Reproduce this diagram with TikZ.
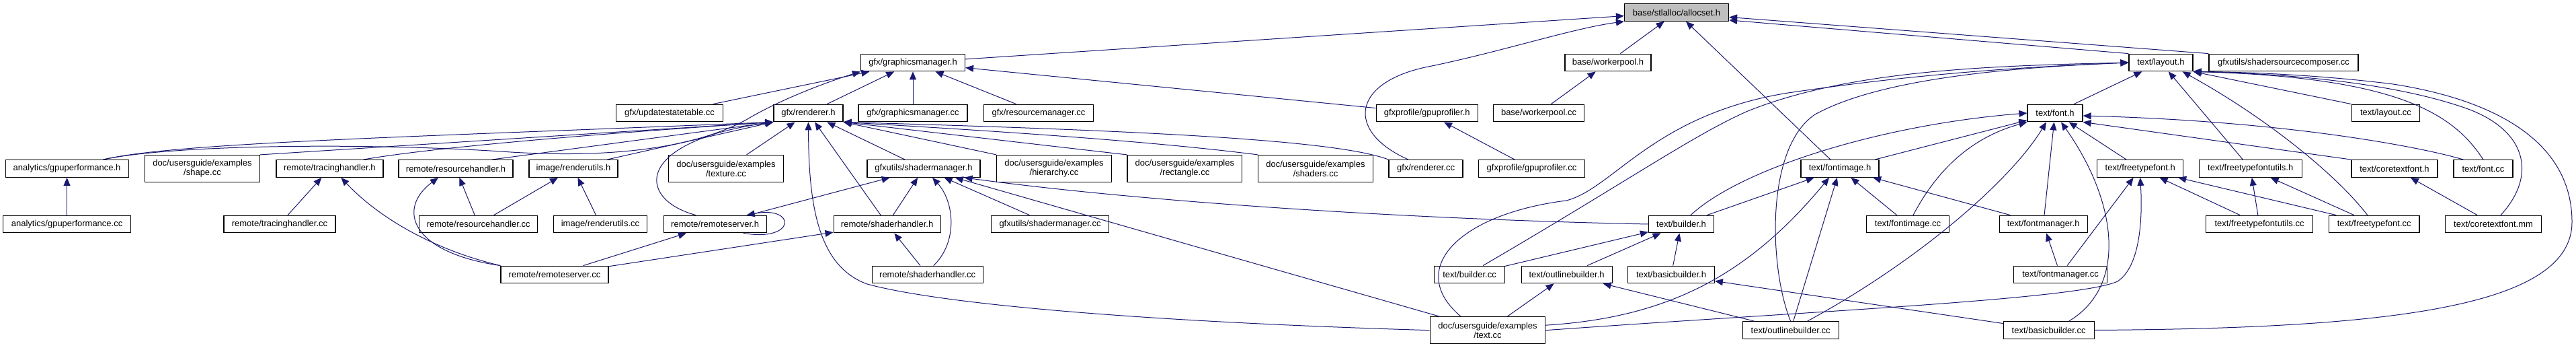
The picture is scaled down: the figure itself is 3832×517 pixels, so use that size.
\documentclass[tikz,border=0pt]{standalone}
\usepackage{fontspec}
\setmainfont{Liberation Sans}
\usetikzlibrary{arrows.meta,calc}
\definecolor{Ec}{HTML}{191970}
\definecolor{Cc}{HTML}{BFBFBF}
\tikzset{
  file/.style={draw=black, line width=0.6pt, fill=white, inner sep=0pt, minimum height=12.8pt,
    align=center, font=\fontsize{6.5pt}{7pt}\selectfont},
  file2/.style={file, minimum height=20pt},
  curfile/.style={file, fill=Cc},
  dep/.style={draw=Ec, line width=0.5pt, -{Triangle[length=6pt, width=5pt]}},
}
\begin{document}
\begin{tikzpicture}[x=0.5pt, y=-0.5pt]
  \useasboundingbox (0,0) rectangle (3832,517);
  \node[curfile, minimum width=77.5pt] (allocset) at (2494,18.5) {base/stlalloc/allocset.h};
  \node[file, minimum width=77.5pt] (gmh) at (1358,93) {gfx/graphicsmanager.h};
  \node[file, minimum width=64pt] (wph) at (2392,93) {base/workerpool.h};
  \node[file, minimum width=47.5pt] (layh) at (3214.5,93) {text/layout.h};
  \node[file, minimum width=111pt] (sscc) at (3397,93) {gfxutils/shadersourcecomposer.cc};
  \node[file, minimum width=79.3pt] (ustcc) at (996,168) {gfx/updatestatetable.cc};
  \node[file, minimum width=51.5pt] (rendh) at (1202.5,168) {gfx/renderer.h};
  \node[file, minimum width=81pt] (gmcc) at (1358,168) {gfx/graphicsmanager.cc};
  \node[file, minimum width=81.3pt] (rmcc) at (1545,168) {gfx/resourcemanager.cc};
  \node[file, minimum width=75.5pt] (gpph) at (2122.7,168) {gfxprofile/gpuprofiler.h};
  \node[file, minimum width=67.5pt] (wpcc) at (2289,168) {base/workerpool.cc};
  \node[file, minimum width=41pt] (fonth) at (3057,168) {text/font.h};
  \node[file, minimum width=50.8pt] (laycc) at (3549,168) {text/layout.cc};
  \node[file, minimum width=91.5pt] (gpfh) at (99.6,250.5) {analytics/gpuperformance.h};
  \node[file2, minimum width=85.5pt] (shapecc) at (301,250.5) {doc/usersguide/examples\\/shape.cc};
  \node[file, minimum width=79.5pt] (trh) at (490.4,250.5) {remote/tracinghandler.h};
  \node[file, minimum width=85pt] (rsh) at (678,250.5) {remote/resourcehandler.h};
  \node[file, minimum width=66pt] (ruh) at (853,250.5) {image/renderutils.h};
  \node[file2, minimum width=85.7pt] (texcc) at (1080,250.5) {doc/usersguide/examples\\/texture.cc};
  \node[file, minimum width=84pt] (smh) at (1374,250.5) {gfxutils/shadermanager.h};
  \node[file2, minimum width=85.3pt] (hiercc) at (1568,250.5) {doc/usersguide/examples\\/hierarchy.cc};
  \node[file2, minimum width=85.4pt] (rectcc) at (1762.4,250.5) {doc/usersguide/examples\\/rectangle.cc};
  \node[file2, minimum width=85.5pt] (shadcc) at (1957,250.5) {doc/usersguide/examples\\/shaders.cc};
  \node[file, minimum width=55pt] (rendcc) at (2121,250.5) {gfx/renderer.cc};
  \node[file, minimum width=79pt] (gppcc) at (2278.5,250.5) {gfxprofile/gpuprofiler.cc};
  \node[file, minimum width=58pt] (fimh) at (2737,250.5) {text/fontimage.h};
  \node[file, minimum width=64pt] (ftfh) at (3183.7,250.5) {text/freetypefont.h};
  \node[file, minimum width=76.5pt] (ftuh) at (3347.7,250.5) {text/freetypefontutils.h};
  \node[file, minimum width=64pt] (ctfh) at (3562,250.5) {text/coretextfont.h};
  \node[file, minimum width=44pt] (fontcc) at (3694,250.5) {text/font.cc};
  \node[file, minimum width=95pt] (gpfcc) at (99.6,333) {analytics/gpuperformance.cc};
  \node[file, minimum width=83pt] (trcc) at (416,333) {remote/tracinghandler.cc};
  \node[file, minimum width=88pt] (rscc) at (711.7,333) {remote/resourcehandler.cc};
  \node[file, minimum width=69.5pt] (rucc) at (893,333) {image/renderutils.cc};
  \node[file, minimum width=76.5pt] (rsvh) at (1063.6,333) {remote/remoteserver.h};
  \node[file, minimum width=79.5pt] (shh) at (1319.6,333) {remote/shaderhandler.h};
  \node[file, minimum width=87.3pt] (smcc) at (1562,333) {gfxutils/shadermanager.cc};
  \node[file, minimum width=48.5pt] (bldh) at (2501,333) {text/builder.h};
  \node[file, minimum width=61.5pt] (fimcc) at (2838,333) {text/fontimage.cc};
  \node[file, minimum width=65.5pt] (fmh) at (3039.6,333) {text/fontmanager.h};
  \node[file, minimum width=79.5pt] (ftucc) at (3361,333) {text/freetypefontutils.cc};
  \node[file, minimum width=67.3pt] (ftfcc) at (3531.7,333) {text/freetypefont.cc};
  \node[file, minimum width=71.5pt] (ctfmm) at (3709,333) {text/coretextfont.mm};
  \node[file, minimum width=80pt] (rsvcc) at (825,408) {remote/remoteserver.cc};
  \node[file, minimum width=82.5pt] (shcc) at (1379.7,408) {remote/shaderhandler.cc};
  \node[file, minimum width=52.5pt] (bldcc) at (2186,408) {text/builder.cc};
  \node[file, minimum width=67.5pt] (olbh) at (2330.6,408) {text/outlinebuilder.h};
  \node[file, minimum width=64.3pt] (bbh) at (2486,408) {text/basicbuilder.h};
  \node[file, minimum width=69.5pt] (fmcc) at (3065,408) {text/fontmanager.cc};
  \node[file2, minimum width=85.8pt] (textcc) at (2213,490.7) {doc/usersguide/examples\\/text.cc};
  \node[file, minimum width=71.5pt] (olbcc) at (2663.6,490.5) {text/outlinebuilder.cc};
  \node[file, minimum width=67.5pt] (bbcc) at (3047.6,490.5) {text/basicbuilder.cc};
  \foreach \a/\b in {gmh/allocset,wph/allocset,fimh/allocset,%
    ustcc/gmh,rendh/gmh,gmcc/gmh,rmcc/gmh,gpph/gmh,wpcc/wph,gppcc/gpph,%
    texcc/rendh,shh/rendh,smh/rendh,gpfcc/gpfh,trcc/trh,rscc/rsh,rscc/ruh,rucc/ruh,%
    rsvh/smh,shh/smh,smcc/smh,textcc/smh,rsvcc/rsvh,rsvcc/shh,shcc/shh,%
    fonth/layh,ftuh/layh,fimh/fonth,fmh/fonth,ftfh/fonth,%
    bldh/fimh,olbcc/fimh,fimcc/fimh,fmh/fimh,fmcc/fmh,fmcc/ftfh,ftucc/ftfh,ftfcc/ftfh,%
    ftucc/ftuh,ftfcc/ftuh,ctfmm/ctfh,bldcc/bldh,olbh/bldh,bbh/bldh,textcc/olbh,olbcc/olbh,bbcc/bbh}
    \draw[dep] (\a) -- (\b);
  \draw[dep] (layh.north west) -- ($(allocset.south east)+(0,-2)$);
  \draw[dep] (sscc.north west) -- ($(allocset.east)+(0,7)$);
  \draw[dep] (shapecc.north east) -- (rendh.south west);
  \draw[dep] (rsh.14) -- (rendh.south west);
  \draw[dep] (ruh.15) -- (rendh.south west);
  \draw[dep] (hiercc.north west) -- (rendh.south east);
  \draw[dep] (rectcc.north west) -- (rendh.south east);
  \draw[dep] (laycc.north west) -- (layh.south east);
  \draw[dep] (ctfh.north west) -- (fonth.south east);
  \draw[dep] (gpfh.14) .. controls (260,214) and (560,212) .. (760,226) .. controls (960,238) and (1060,205) .. (1110,178) .. controls (1160,148) and (1230,122) .. (gmh.south west);
  \draw[dep] (gpfh.14) .. controls (260,212) and (600,204) .. (rendh.south west);
  \draw[dep] (trh.15) .. controls (650,218) and (900,198) .. (rendh.south west);
  \draw[dep] (rsvh.155) .. controls (945,295) and (945,210) .. (rendh.south west);
  \draw[dep] (textcc.west) .. controls (1700,478) and (1400,452) .. (1290,422) .. controls (1215,395) and (1203,300) .. (rendh.south);
  \draw[dep] (shadcc.north west) .. controls (1700,208) and (1450,193) .. (rendh.south east);
  \draw[dep] (rendcc.north west) .. controls (1990,208) and (1700,194) .. (rendh.south east);
  \draw[dep] ($(rendcc.north)+(-26,0)$) .. controls (2000,195) and (2010,120) .. (2130,98) .. controls (2240,75) and (2340,42) .. (allocset.south west);
  \draw[dep] (rsvcc.north west) .. controls (640,370) and (560,320) .. ($(trh.south)+(17,0)$);
  \draw[dep] (rsvcc.north west) .. controls (610,375) and (590,310) .. ($(rsh.south)+(-26,0)$);
  \draw[dep] ($(rsvh.south east)+(-35,0)$) .. controls (1185,360) and (1185,305) .. ($(rsvh.north east)+(-30,0)$);
  \draw[dep] ($(shcc.north)+(9,0)$) .. controls (1425,360) and (1420,300) .. ($(smh.south)+(13,0)$);
  \draw[dep] (bldh.west) .. controls (2100,326) and (1700,300) .. ($(smh.south east)+(-24,0)$);
  \draw[dep] ($(textcc.north)+(-40,0)$) .. controls (2090,400) and (2170,318) .. (2330,298) .. controls (2400,280) and (2460,170) .. (2660,138) .. controls (2850,110) and (3000,100) .. (layh.west);
  \draw[dep] ($(bldcc.north)+(20,0)$) .. controls (2420,270) and (2520,200) .. (2600,165) .. controls (2750,105) and (2950,98) .. (layh.west);
  \draw[dep] (olbcc.north) .. controls (2632,400) and (2625,220) .. (2700,170) .. controls (2800,115) and (3000,100) .. (layh.west);
  \draw[dep] ($(ftfcc.north)+(-10,0)$) .. controls (3480,265) and (3380,180) .. ($(layh.south east)+(-16,0)$);
  \draw[dep] (fontcc.north) .. controls (3650,170) and (3570,115) .. (layh.south east);
  \draw[dep] ($(ctfmm.north)+(11,0)$) .. controls (3775,260) and (3760,190) .. (3660,158) .. controls (3560,125) and (3420,110) .. (layh.south east);
  \draw[dep] (bbcc.east) .. controls (3560,488) and (3826,455) .. (3826,330) .. controls (3826,215) and (3720,150) .. (3560,125) .. controls (3440,110) and (3330,107) .. (layh.south east);
  \draw[dep] ($(bldh.north)+(14,0)$) .. controls (2590,250) and (2800,185) .. (fonth.west);
  \draw[dep] ($(fimcc.north)+(8,0)$) .. controls (2880,255) and (2930,205) .. (fonth.south west);
  \draw[dep] ($(olbcc.north)+(25,0)$) .. controls (2850,390) and (2990,270) .. ($(fonth.south)+(-13,0)$);
  \draw[dep] ($(bbcc.north)+(30,0)$) .. controls (3165,425) and (3150,300) .. ($(fonth.south)+(9,0)$);
  \draw[dep] ($(fontcc.north west)+(15,0)$) .. controls (3600,218) and (3400,180) .. ($(fonth.east)+(0,4)$);
  \draw[dep] (textcc.5) .. controls (2480,472) and (2600,410) .. ($(fimh.south)+(-16,0)$);
  \draw[dep] (textcc.east) .. controls (2700,462) and (3090,445) .. (3150,418) .. controls (3185,395) and (3187,320) .. (ftfh.south);
\end{tikzpicture}
\end{document}
